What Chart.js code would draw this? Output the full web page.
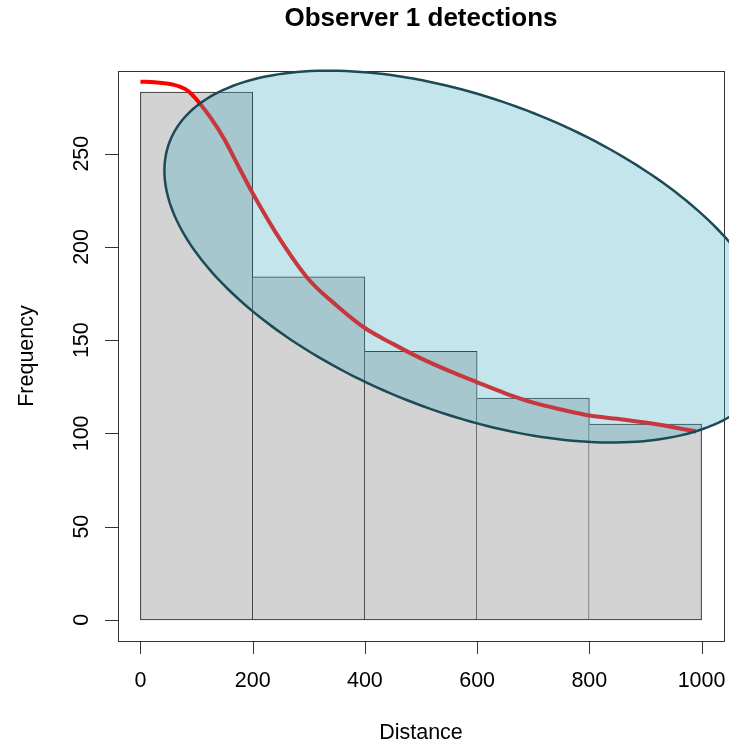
<!DOCTYPE html>
<html>
<head>
<meta charset="utf-8">
<title>Observer 1 detections</title>
<script src="https://cdn.jsdelivr.net/npm/chart.js@4.4.1/dist/chart.umd.min.js"></script>
<style>
  html, body { margin: 0; padding: 0; background: #fff; }
  #wrap { width: 729px; height: 745px; }
</style>
</head>
<body>
<div id="wrap"><canvas id="chart" width="729" height="745"></canvas></div>
<script>
// Histogram bins (distance) and counts
const binStarts = [0, 200, 400, 600, 800];
const binWidth = 200;
const counts = [283, 184, 144, 119, 105];

// Fitted detection curve, scaled to the counts
const curveX = [0, 25, 50, 60, 70, 80, 90, 100, 125, 150, 175, 200, 250, 300, 350, 400, 450, 500, 550, 600, 650, 700, 750, 800, 850, 900, 950, 990];
const curveY = [288.6, 288.3, 287.5, 286.9, 286.0, 284.6, 282.3, 279, 269.3, 257.5, 243, 228.8, 203.5, 182.5, 168.5, 156.5, 148, 140.2, 133.5, 127.4, 121.5, 116.5, 112.8, 109.6, 107.8, 105.8, 103.3, 101];

// Tick labels
const xTicks = [0, 200, 400, 600, 800, 1000];
const yTicks = [0, 50, 100, 150, 200, 250];

// Ellipse in data units: centre and two conjugate semi-diameters
const ellipseCentre = [587.7, 194.8];
const ellipseU = [545.0, -46.1];
const ellipseV = [0, -88.4];

const FONT = '"Liberation Sans", Arial, Helvetica, sans-serif';

// Box, axes, tick labels and titles in the style of base R graphics
const rFrame = {
    id: 'rFrame',
    beforeDatasetsDraw(chart) {
        const { ctx, chartArea: a, scales: { x, y } } = chart;
        ctx.save();
        ctx.strokeStyle = '#333';
        ctx.lineWidth = 1;
        ctx.strokeRect(a.left + 0.5, a.top + 0.5, a.right - a.left, a.bottom - a.top);

        ctx.beginPath();
        xTicks.forEach(v => {
            const px = Math.round(x.getPixelForValue(v)) + 0.5;
            ctx.moveTo(px, a.bottom);
            ctx.lineTo(px, a.bottom + 13);
        });
        yTicks.forEach(v => {
            const py = Math.round(y.getPixelForValue(v)) + 0.5;
            ctx.moveTo(a.left, py);
            ctx.lineTo(a.left - 13, py);
        });
        ctx.stroke();

        ctx.fillStyle = '#000';
        ctx.textAlign = 'center';
        ctx.textBaseline = 'middle';
        ctx.font = '21.5px ' + FONT;
        xTicks.forEach(v => ctx.fillText(String(v), x.getPixelForValue(v), a.bottom + 40));
        yTicks.forEach(v => {
            ctx.save();
            ctx.translate(a.left - 36, y.getPixelForValue(v));
            ctx.rotate(-Math.PI / 2);
            ctx.fillText(String(v), 0, 0);
            ctx.restore();
        });

        ctx.fillText('Distance', (a.left + a.right) / 2, a.bottom + 92);
        ctx.save();
        ctx.translate(27, (a.top + a.bottom) / 2);
        ctx.rotate(-Math.PI / 2);
        ctx.fillText('Frequency', 0, 0);
        ctx.restore();

        ctx.font = 'bold 26px ' + FONT;
        ctx.fillText('Observer 1 detections', (a.left + a.right) / 2, 19);
        ctx.restore();
    }
};

// Semi-transparent ellipse drawn over the histogram and curve
const ellipseLayer = {
    id: 'ellipseLayer',
    afterDatasetsDraw(chart) {
        const { ctx, scales: { x, y } } = chart;
        const n = 240;
        ctx.save();
        ctx.beginPath();
        for (let i = 0; i <= n; i++) {
            const t = (i / n) * 2 * Math.PI;
            const dx = ellipseCentre[0] + ellipseU[0] * Math.cos(t) + ellipseV[0] * Math.sin(t);
            const dy = ellipseCentre[1] + ellipseU[1] * Math.cos(t) + ellipseV[1] * Math.sin(t);
            const px = x.getPixelForValue(dx);
            const py = y.getPixelForValue(dy);
            if (i === 0) ctx.moveTo(px, py); else ctx.lineTo(px, py);
        }
        ctx.closePath();
        ctx.fillStyle = 'rgba(74, 174, 196, 0.32)';
        ctx.fill();
        ctx.strokeStyle = '#1c4a55';
        ctx.lineWidth = 2.5;
        ctx.stroke();
        ctx.restore();
    }
};

new Chart(document.getElementById('chart'), {
    data: {
        datasets: [
            {
                type: 'line',
                data: curveX.map((v, i) => ({ x: v, y: curveY[i] })),
                borderColor: '#ff0000',
                borderWidth: 4,
                pointRadius: 0,
                cubicInterpolationMode: 'monotone',
                order: 0
            },
            {
                type: 'bar',
                data: binStarts.map((s, i) => ({ x: s + binWidth / 2, y: counts[i] })),
                backgroundColor: '#d3d3d3',
                borderColor: '#222',
                borderWidth: 1,
                borderSkipped: c => (c.dataIndex === 0 ? false : 'left'),
                barPercentage: 1,
                categoryPercentage: 1,
                order: 1
            }
        ]
    },
    options: {
        responsive: false,
        animation: false,
        layout: { padding: { left: 118, right: 5, top: 71, bottom: 104 } },
        plugins: {
            legend: { display: false },
            title: { display: false },
            tooltip: { enabled: false }
        },
        scales: {
            x: {
                type: 'linear',
                min: -40,
                max: 1040,
                offset: false,
                display: false,
                ticks: { stepSize: 200, includeBounds: false },
                afterBuildTicks: s => { s.ticks = xTicks.map(v => ({ value: v })); }
            },
            y: {
                type: 'linear',
                min: -11.32,
                max: 294.32,
                display: false
            }
        }
    },
    plugins: [rFrame, ellipseLayer]
});
</script>
</body>
</html>
